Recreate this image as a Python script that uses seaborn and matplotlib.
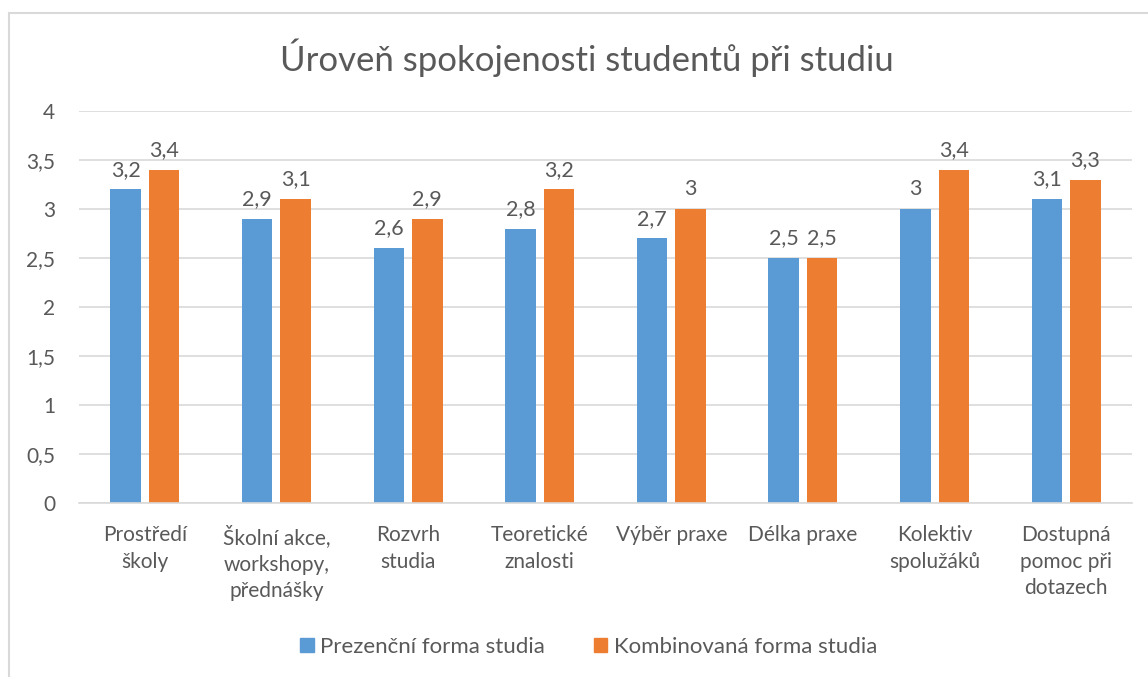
import pandas as pd
import matplotlib.pyplot as plt
import matplotlib.patches as mpatches
import seaborn as sns

# data
categories = ["Prostředí\nškoly", "Školní akce,\nworkshopy,\npřednášky", "Rozvrh\nstudia",
              "Teoretické\nznalosti", "Výběr praxe", "Délka praxe", "Kolektiv\nspolužáků",
              "Dostupná\npomoc při\ndotazech"]
prezencni = [3.2, 2.9, 2.6, 2.8, 2.7, 2.5, 3.0, 3.1]
kombinovana = [3.4, 3.1, 2.9, 3.2, 3.0, 2.5, 3.4, 3.3]
series_names = ["Prezenční forma studia", "Kombinovaná forma studia"]

df = pd.DataFrame({
    "kategorie": categories * 2,
    "hodnota": prezencni + kombinovana,
    "forma": [series_names[0]] * len(categories) + [series_names[1]] * len(categories),
})

sns.set_style("white")
plt.rcParams['font.family'] = ['Lato', 'DejaVu Sans']
txt = "#595959"

fig = plt.figure(figsize=(11.48, 6.77), dpi=100)
ax = fig.add_axes([79 / 1148, 1 - 503 / 677, (1132 - 79) / 1148, (503 - 111) / 677])

palette = {series_names[0]: "#5B9BD5", series_names[1]: "#ED7D31"}
sns.barplot(data=df, x="kategorie", y="hodnota", hue="forma", palette=palette,
            saturation=1, linewidth=0, width=0.585, gap=0.21, errorbar=None,
            ax=ax, legend=False)

ax.set_ylim(0, 4)
ax.set_yticks([0, 0.5, 1, 1.5, 2, 2.5, 3, 3.5, 4])
ax.set_yticklabels(["0", "0,5", "1", "1,5", "2", "2,5", "3", "3,5", "4"])
ax.yaxis.grid(True, color="#D9D9D9", linewidth=1.2)
ax.set_axisbelow(True)
for s in ["left", "right", "top"]:
    ax.spines[s].set_visible(False)
ax.spines["bottom"].set_color("#D9D9D9")
ax.spines["bottom"].set_linewidth(1.2)
ax.tick_params(axis="both", length=0, labelsize=15, colors=txt)
ax.tick_params(axis="x", pad=16)
ax.tick_params(axis="y", pad=17)
for lab in ax.get_xticklabels():
    lab.set_linespacing(1.4)
ax.set_xlabel("")
ax.set_ylabel("")

for cont in ax.containers:
    labels = [f"{v:g}".replace(".", ",") for v in cont.datavalues]
    ax.bar_label(cont, labels=labels, padding=7, fontsize=15.5, color=txt)

fig.text(0.511, 1 - 58 / 677, "Úroveň spokojenosti studentů při studiu", ha="center", va="center",
         fontsize=25, color=txt)

handles = [mpatches.Patch(color=palette[n], label=n) for n in series_names]
fig.legend(handles=handles, loc="center", bbox_to_anchor=(0.513, 1 - 647 / 677), ncol=2,
           frameon=False, fontsize=16, labelcolor=txt, handlelength=0.6, handleheight=0.6,
           handletextpad=0.3, columnspacing=2.2)

# chart border
fig.patches.append(mpatches.Rectangle((9 / 1148, -0.1), 1.2, 1 - 13 / 677 + 0.1,
                                      transform=fig.transFigure, fill=False,
                                      edgecolor="#D9D9D9", linewidth=1.5))

fig.savefig("out.png", dpi=100)
